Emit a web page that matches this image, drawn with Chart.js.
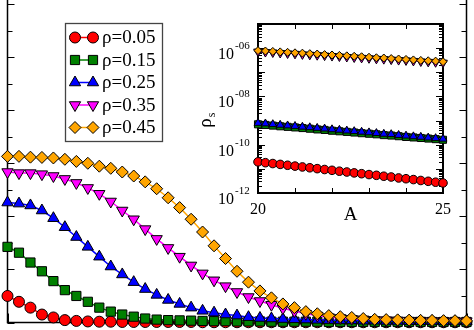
<!DOCTYPE html>
<html>
<head>
<meta charset="UTF-8">
<title>rho profiles</title>
<script src="https://cdn.jsdelivr.net/npm/chart.js"></script>
<style>
  body { margin: 0; background: #fff; }
  #wrap { position: relative; width: 474px; height: 330px; overflow: hidden; }
  #main { position: absolute; left: 0; top: -30px; }
  #inset { position: absolute; left: 200px; top: 0; }
</style>
</head>
<body>
<div id="wrap">
  <canvas id="main" width="474" height="360"></canvas>
  <canvas id="inset" width="274" height="230"></canvas>
</div>
<script>
const rhoLabels = ['ρ=0.05', 'ρ=0.15', 'ρ=0.25', 'ρ=0.35', 'ρ=0.45'];

// main panel: profiles vs position
const xMain = [0,1,2,3,4,5,6,7,8,9,10,11,12,13,14,15,16,17,18,19,20,21,22,23,24,25,26,27,28,29,30,31,32,33,34,35,36,37,38,39,40];
const prof005 = [0.100,0.078,0.056,0.030,0.019,0.009,0.006,0.004,0.003,0.003,0.002,0.002,0.002,0.002,0.002,0.002,0.002,0.001,0.001,0.001,0.001,0.001,0.001,0.001,0.001,0.001,0.001,0.001,0.001,0.001,0.001,0.001,0.001,0.001,0.001,0.001,0.001,0.001,0.001,0.001,0.001];
const prof015 = [0.285,0.263,0.226,0.193,0.156,0.122,0.100,0.078,0.056,0.041,0.030,0.022,0.015,0.011,0.009,0.008,0.007,0.006,0.005,0.005,0.004,0.004,0.004,0.003,0.003,0.003,0.003,0.003,0.002,0.002,0.002,0.002,0.002,0.002,0.002,0.002,0.002,0.002,0.002,0.002,0.002];
const prof025 = [0.452,0.448,0.441,0.422,0.393,0.359,0.322,0.285,0.248,0.211,0.181,0.152,0.126,0.104,0.085,0.070,0.056,0.044,0.037,0.030,0.026,0.020,0.017,0.015,0.013,0.012,0.011,0.010,0.009,0.008,0.008,0.007,0.007,0.006,0.006,0.005,0.005,0.005,0.004,0.004,0.004];
const prof035 = [0.567,0.563,0.563,0.559,0.552,0.541,0.526,0.507,0.485,0.456,0.422,0.389,0.352,0.315,0.281,0.248,0.215,0.185,0.159,0.137,0.115,0.096,0.081,0.067,0.054,0.043,0.033,0.026,0.020,0.017,0.014,0.012,0.010,0.009,0.008,0.007,0.007,0.006,0.006,0.005,0.005];
const prof045 = [0.626,0.626,0.623,0.622,0.620,0.615,0.607,0.600,0.589,0.581,0.567,0.552,0.530,0.504,0.470,0.433,0.389,0.341,0.289,0.241,0.193,0.152,0.119,0.093,0.070,0.056,0.041,0.033,0.026,0.022,0.019,0.015,0.012,0.011,0.010,0.009,0.008,0.008,0.007,0.007,0.006];
const mainXTicks = [0,5,10,15,20,25,30,35,40];
const mainYTicks = [0,0.1,0.2,0.3,0.4,0.5,0.6,0.7,0.8,0.9,1.0,1.1,1.2,1.3];

// inset: rho_s vs A
const aInset = [20,20.2,20.4,20.6,20.8,21,21.2,21.4,21.6,21.8,22,22.2,22.4,22.6,22.8,23,23.2,23.4,23.6,23.8,24,24.2,24.4,24.6,24.8,25];
const rs005 = [1.95e-11,1.80e-11,1.66e-11,1.53e-11,1.41e-11,1.30e-11,1.20e-11,1.11e-11,1.02e-11,9.4e-12,8.7e-12,8.0e-12,7.4e-12,6.8e-12,6.3e-12,5.8e-12,5.4e-12,4.95e-12,4.6e-12,4.2e-12,3.9e-12,3.6e-12,3.3e-12,3.05e-12,2.8e-12,2.6e-12];
const rs015 = [7.0e-10,6.6e-10,6.2e-10,5.8e-10,5.5e-10,5.2e-10,4.9e-10,4.6e-10,4.3e-10,4.1e-10,3.8e-10,3.6e-10,3.4e-10,3.2e-10,3.0e-10,2.85e-10,2.7e-10,2.5e-10,2.4e-10,2.25e-10,2.1e-10,2.0e-10,1.9e-10,1.8e-10,1.7e-10,1.6e-10];
const rs025 = [7.9e-10,7.5e-10,7.0e-10,6.6e-10,6.2e-10,5.9e-10,5.5e-10,5.2e-10,4.9e-10,4.6e-10,4.3e-10,4.1e-10,3.8e-10,3.6e-10,3.4e-10,3.2e-10,3.0e-10,2.8e-10,2.7e-10,2.5e-10,2.35e-10,2.2e-10,2.1e-10,1.95e-10,1.85e-10,1.75e-10];
const rs035 = [7.2e-7,6.9e-7,6.6e-7,6.3e-7,6.0e-7,5.8e-7,5.5e-7,5.3e-7,5.1e-7,4.9e-7,4.7e-7,4.5e-7,4.3e-7,4.1e-7,3.95e-7,3.8e-7,3.6e-7,3.5e-7,3.35e-7,3.2e-7,3.1e-7,2.95e-7,2.8e-7,2.7e-7,2.6e-7,2.5e-7];
const rs045 = [7.9e-7,7.6e-7,7.3e-7,7.0e-7,6.7e-7,6.4e-7,6.2e-7,5.9e-7,5.7e-7,5.4e-7,5.2e-7,5.0e-7,4.8e-7,4.6e-7,4.4e-7,4.2e-7,4.0e-7,3.9e-7,3.7e-7,3.55e-7,3.4e-7,3.25e-7,3.1e-7,3.0e-7,2.9e-7,2.75e-7];
const insetXTicks = [20,21,22,23,24,25];
const insetXLabels = [20,25];
const insetYTicks = [1e-12,1e-10,1e-8,1e-6];
const insetYLabels = ['-12','-10','-08','-06'];

const SERIF = '"Liberation Serif", "Times New Roman", serif';

const styles = [
  { color: '#ff0000', shape: 'circle',   rot: 0,   r: 5.5, ri: 4.3 },
  { color: '#008000', shape: 'rect',     rot: 0,   r: 6.5, ri: 5 },
  { color: '#0000ff', shape: 'triangle', rot: 0,   r: 6.5, ri: 4.6 },
  { color: '#ff00ff', shape: 'triangle', rot: 180, r: 6.5, ri: 5 },
  { color: '#ffa500', shape: 'rectRot',  rot: 0,   r: 6,   ri: 4 }
];

function makeSets(xs, series, sizeKey, lw) {
  return series.map((ys, k) => ({
    label: rhoLabels[k],
    data: ys.map((y, i) => ({ x: xs[i], y: y })),
    borderColor: styles[k].color,
    borderWidth: lw,
    pointStyle: styles[k].shape,
    pointRotation: styles[k].rot,
    pointRadius: styles[k][sizeKey],
    pointBackgroundColor: styles[k].color,
    pointBorderColor: '#000',
    pointBorderWidth: 1,
    clip: false,
    order: 5 - k
  }));
}

// box + inward ticks, drawn under the data
function frameTicks(cfg) {
  return {
    id: 'frameTicks',
    beforeDatasetsDraw(chart) {
      const { ctx, chartArea: a, scales } = chart;
      ctx.save();
      ctx.strokeStyle = '#000';
      ctx.lineWidth = 1;
      const seg = (x1, y1, x2, y2) => { ctx.beginPath(); ctx.moveTo(x1, y1); ctx.lineTo(x2, y2); ctx.stroke(); };
      cfg.xTicks.forEach(t => {
        const px = Math.round(scales.x.getPixelForValue(t.v)) + 0.5;
        seg(px, a.top, px, a.top + t.len);
        seg(px, a.bottom, px, a.bottom - t.len);
      });
      cfg.yTicks.forEach(t => {
        const py = Math.round(scales.y.getPixelForValue(t.v)) + 0.5;
        if (py < a.top || py > a.bottom + 1) return;
        seg(a.left, py, a.left + t.len, py);
        seg(a.right, py, a.right - t.len, py);
      });
      ctx.lineWidth = cfg.frameWidth;
      ctx.strokeRect(a.left, a.top, a.right - a.left, a.bottom - a.top);
      ctx.restore();
    }
  };
}

const hiddenAxis = (extra) => Object.assign({
  ticks: { display: false },
  grid: { display: false, drawTicks: false },
  border: { display: false },
  afterFit(s) { if (s.isHorizontal()) s.height = 0; else s.width = 0; }
}, extra);

// legend box for the main panel (canvas is shifted 30px up)
const legendBox = {
  id: 'legendBox',
  afterDatasetsDraw(chart) {
    const ctx = chart.ctx;
    const off = 30;
    ctx.save();
    ctx.fillStyle = '#fff';
    ctx.fillRect(65, 23 + off, 97, 118);
    ctx.strokeStyle = '#444';
    ctx.lineWidth = 1.3;
    ctx.strokeRect(65.5, 23.5 + off, 97, 118);
    chart.data.datasets.forEach((ds, k) => {
      const y = 37.5 + k * 22.5 + off;
      ctx.strokeStyle = ds.borderColor;
      ctx.lineWidth = 1.5;
      ctx.beginPath(); ctx.moveTo(75, y); ctx.lineTo(93, y); ctx.stroke();
      ctx.fillStyle = ds.pointBackgroundColor;
      ctx.strokeStyle = '#000';
      ctx.lineWidth = 1;
      const p = { pointStyle: ds.pointStyle, rotation: ds.pointRotation, radius: ds.pointRadius, borderWidth: 1 };
      Chart.helpers.drawPoint(ctx, p, 75, y);
      Chart.helpers.drawPoint(ctx, p, 93, y);
      ctx.fillStyle = '#000';
      ctx.font = '19px ' + SERIF;
      ctx.textBaseline = 'middle';
      ctx.textAlign = 'left';
      ctx.fillText(ds.label, 102, y + 1);
    });
    ctx.restore();
  }
};

new Chart(document.getElementById('main'), {
  type: 'line',
  data: { datasets: makeSets(xMain, [prof005, prof015, prof025, prof035, prof045], 'r', 1.5) },
  options: {
    responsive: false,
    animation: false,
    layout: { padding: { left: 4, right: 3, top: 3, bottom: 6 } },
    plugins: { legend: { display: false }, tooltip: { enabled: false } },
    scales: {
      x: hiddenAxis({ type: 'linear', min: 0, max: 40 }),
      y: hiddenAxis({ type: 'linear', min: 0, max: 1.3 })
    }
  },
  plugins: [
    frameTicks({
      frameWidth: 1.5,
      xTicks: mainXTicks.map(v => ({ v, len: v % 10 === 0 ? 9 : 5 })),
      yTicks: mainYTicks.map((v, i) => ({ v, len: i % 2 === 0 ? 7 : 5 }))
    }),
    legendBox
  ]
});

// log minor ticks for the inset
const insetLogTicks = [];
for (let e = -12; e <= -6; e++) {
  for (let m = 1; m <= 9; m++) insetLogTicks.push({ v: m * Math.pow(10, e), len: m === 1 ? 7 : 4 });
}
insetLogTicks.push({ v: 1e-5, len: 7 });

const insetText = {
  id: 'insetText',
  beforeDraw(chart) {
    const { ctx, chartArea: a } = chart;
    ctx.save();
    ctx.fillStyle = '#fff';
    ctx.fillRect(a.left, a.top, a.right - a.left, a.bottom - a.top);
    ctx.restore();
  },
  afterDraw(chart) {
    const { ctx, chartArea: a, scales } = chart;
    ctx.save();
    ctx.fillStyle = '#000';
    ctx.textBaseline = 'alphabetic';
    insetYTicks.forEach((v, i) => {
      const py = scales.y.getPixelForValue(v);
      ctx.font = '16px ' + SERIF;
      ctx.textAlign = 'right';
      ctx.fillText('10', a.left - 24, py + 11);
      ctx.font = '11px ' + SERIF;
      ctx.textAlign = 'left';
      ctx.fillText(insetYLabels[i], a.left - 23, py + 1);
    });
    ctx.font = '16px ' + SERIF;
    ctx.textAlign = 'center';
    insetXLabels.forEach(v => {
      ctx.fillText(String(v), scales.x.getPixelForValue(v), a.bottom + 21);
    });
    ctx.font = '19px ' + SERIF;
    ctx.fillText('A', (a.left + a.right) / 2, a.bottom + 27);
    // rotated rho_s title
    ctx.translate(a.left - 47, a.top + 96);
    ctx.rotate(-Math.PI / 2);
    ctx.textAlign = 'left';
    ctx.font = '19px ' + SERIF;
    const w = ctx.measureText('ρ').width;
    ctx.fillText('ρ', -w / 2 - 3, 0);
    ctx.font = '12px ' + SERIF;
    ctx.fillText('s', w / 2 - 2, 4);
    ctx.restore();
  }
};

new Chart(document.getElementById('inset'), {
  type: 'line',
  data: { datasets: makeSets(aInset, [rs005, rs015, rs025, rs035, rs045], 'ri', 1) },
  options: {
    responsive: false,
    animation: false,
    layout: { padding: { left: 58, right: 31, top: 24, bottom: 37 } },
    plugins: { legend: { display: false }, tooltip: { enabled: false } },
    scales: {
      x: hiddenAxis({ type: 'linear', min: 20, max: 25 }),
      y: hiddenAxis({ type: 'logarithmic', min: 1e-12, max: 1e-5 })
    }
  },
  plugins: [
    insetText,
    frameTicks({
      frameWidth: 2,
      xTicks: insetXTicks.map(v => ({ v, len: 5 })),
      yTicks: insetLogTicks
    })
  ]
});
</script>
</body>
</html>
